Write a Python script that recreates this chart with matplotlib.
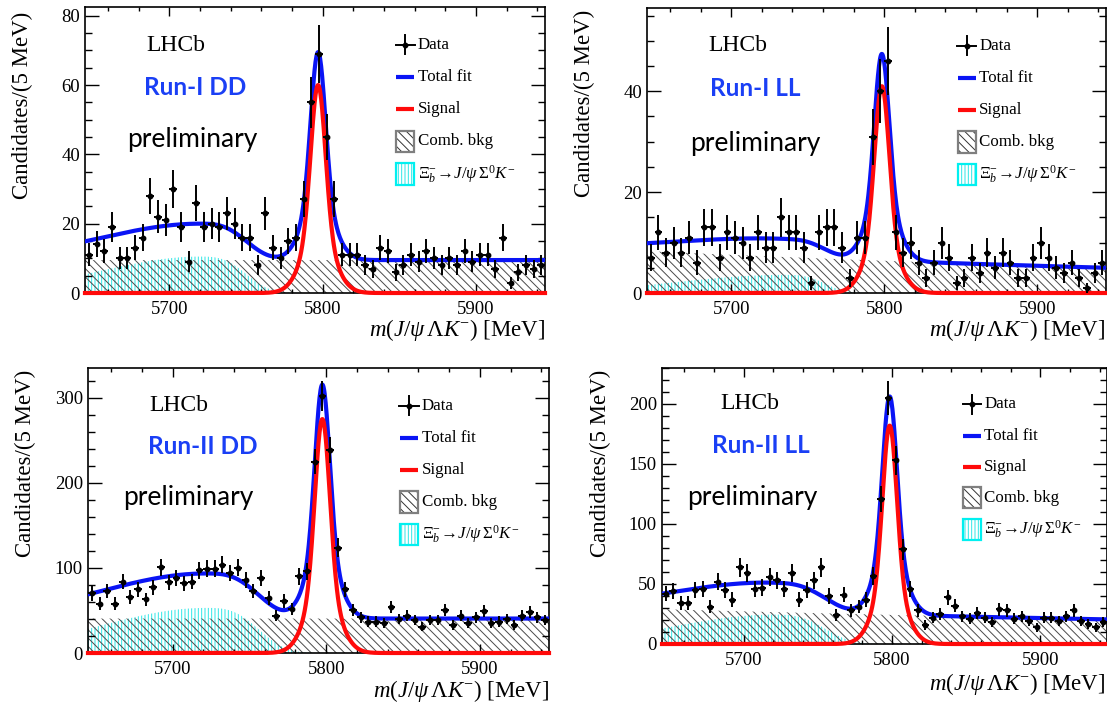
import matplotlib
matplotlib.use("Agg")
import matplotlib.pyplot as plt
from matplotlib.patches import Rectangle
from matplotlib.ticker import MultipleLocator
import numpy as np

plt.rcParams.update({
    "font.family": "Liberation Serif",
    "mathtext.fontset": "custom",
    "mathtext.rm": "Liberation Serif",
    "mathtext.it": "Liberation Serif:italic",
    "mathtext.bf": "Liberation Serif:bold",
    "hatch.linewidth": 0.7,
})

FIT_BLUE = "#0a14f5"
SIG_RED = "#ff0a0a"
CYAN = "#2ee6e6"
HATCH_GRAY = "#4a4a4a"
TAG_BLUE = "#1a3ff5"

# -- binning: 5 MeV bins --
mass_lo, mass_hi, bin_w = 5645.0, 5945.0, 5.0

# -- data: candidates per bin --
run1_dd_counts = [11, 14, 12, 19, 10, 10, 13, 16, 28, 22, 21, 30, 19, 9, 26,
                  19, 20, 19, 23, 20, 16, 16, 8, 23, 13, 10, 15, 16, 27, 55,
                  69, 45, 27, 11, 11, 11, 8, 7, 13, 12, 6, 8, 11, 9, 12,
                  10, 8, 10, 8, 12, 9, 11, 11, 7, 16, 3, 6, 8, 7, 8]
run1_ll_counts = [7, 12, 8, 10, 8, 11, 6, 13, 13, 7,
                  12, 11, 10, 7, 12, 9, 9, 15, 12, 12,
                  9, 2, 12, 13, 13, 9, 3, 11, 11, 31,
                  40, 46, 12, 8, 10, 6, 3, 6, 10, 7,
                  2, 3, 7, 4, 8, 5, 8, 6, 3, 3,
                  7, 10, 7, 5, 4, 6, 3, 1, 4, 6]
run2_dd_counts = [70, 58, 73, 58, 84, 66, 75, 63, 77, 101,
                  83, 88, 82, 84, 97, 99, 99, 104, 94, 100,
                  86, 73, 88, 65, 44, 61, 52, 90, 96, 225,
                  302, 239, 124, 75, 51, 42, 37, 37, 35, 54,
                  40, 44, 39, 31, 39, 39, 51, 33, 44, 35,
                  42, 49, 35, 37, 40, 33, 44, 48, 42, 39]
run2_ll_counts = [42, 44, 34, 34, 45, 46, 31, 52, 45, 37,
                  64, 59, 46, 47, 56, 53, 46, 59, 37, 45,
                  53, 64, 40, 24, 41, 28, 31, 37, 57, 121,
                  205, 153, 79, 46, 28, 16, 22, 25, 39, 32,
                  23, 21, 26, 22, 18, 29, 28, 21, 23, 19,
                  14, 22, 22, 19, 23, 28, 19, 17, 14, 18]

panel_tags = ["Run-I DD", "Run-I LL", "Run-II DD", "Run-II LL"]

# -- fit components --
sig_height = [60, 41, 275, 182]
sig_mean = [5797.0, 5798.5, 5797.5, 5798.5]
sig_core, sig_tail, sig_tail_frac = 4.7, 10.0, 0.28
comb_left = [9.5, 8.3, 40.5, 29.0]
comb_right = [9.5, 5.0, 40.5, 20.5]
part_height = [10.5, 3.6, 53.0, 24.5]
part_mean = [5720, 5735, 5722, 5720]
part_wl = [65, 70, 69, 66.5]
part_wr = [27.6, 24, 31.3, 32]

y_max = [82.5, 56.5, 335, 230]
y_major = [20, 20, 100, 50]
y_minor = [5, 5, 20, 10]

# axes boxes in pixels: left, right, top, bottom
W, H = 1107, 704
boxes = [(85, 545, 7, 293), (647, 1106, 8, 293),
         (88, 549, 368, 653), (662, 1107, 368, 644)]
ylab_pos = [(22, 12), (584, 10), (25, 370), (600, 370)]
xlab_pos = [(545, 330), (1105, 330), (549, 691), (1105, 684)]
tag_pos = [((0.198, 0.867), (0.24, 0.717), (0.233, 0.535)),
           ((0.198, 0.867), (0.235, 0.717), (0.235, 0.526)),
           ((0.197, 0.870), (0.25, 0.723), (0.217, 0.544)),
           ((0.198, 0.873), (0.222, 0.721), (0.202, 0.529))]


def signal(m, h, mu):
    d = m - mu
    return h * ((1 - sig_tail_frac) * np.exp(-0.5 * (d / sig_core) ** 2)
                + sig_tail_frac * np.exp(-0.5 * (d / sig_tail) ** 2))


def comb(m, a, b):
    return a * (b / a) ** ((m - mass_lo) / (mass_hi - mass_lo))


def partial(m, h, mu, wl, wr):
    d = m - mu
    return np.where(d < 0, h * np.exp(-0.5 * (d / wl) ** 2),
                    h * np.exp(-0.5 * np.abs(d / wr) ** 3))


fig = plt.figure(figsize=(W / 100, H / 100), dpi=100)
fig.patch.set_facecolor("white")

all_counts = [run1_dd_counts, run1_ll_counts, run2_dd_counts, run2_ll_counts]
centers = mass_lo + bin_w * (np.arange(60) + 0.5)
mm = np.linspace(mass_lo, mass_hi, 901)

for k in range(4):
    l, r, t, b = boxes[k]
    ax = fig.add_axes([l / W, 1 - b / H, (r - l) / W, (b - t) / H])
    counts = np.array(all_counts[k], dtype=float)

    s = signal(mm, sig_height[k], sig_mean[k])
    c = comb(mm, comb_left[k], comb_right[k])
    p = partial(mm, part_height[k], part_mean[k], part_wl[k], part_wr[k])
    tot = s + c + p

    ax.fill_between(mm, 0, p, facecolor="none", edgecolor=CYAN,
                    hatch="|||||", linewidth=0, zorder=1)
    ax.fill_between(mm, 0, c, facecolor="none", edgecolor=HATCH_GRAY,
                    hatch="\\\\\\\\", linewidth=0, zorder=1.5)
    ax.plot(mm, tot, color=FIT_BLUE, lw=3.0, zorder=3)
    ax.plot(mm, s, color=SIG_RED, lw=3.0, zorder=3.5, clip_on=False)
    ax.errorbar(centers, counts, xerr=bin_w / 2, yerr=np.sqrt(counts),
                fmt="o", ms=3.2, color="black", elinewidth=1.4,
                capsize=0, zorder=4)

    ax.set_xlim(mass_lo, mass_hi)
    ax.set_ylim(0, y_max[k])
    ax.xaxis.set_major_locator(MultipleLocator(100))
    ax.xaxis.set_minor_locator(MultipleLocator(20))
    ax.yaxis.set_major_locator(MultipleLocator(y_major[k]))
    ax.yaxis.set_minor_locator(MultipleLocator(y_minor[k]))
    ax.tick_params(which="both", direction="in", top=True, right=True,
                   labelsize=13.5, width=1.0)
    ax.tick_params(axis="x", which="major", length=6.5, pad=6)
    ax.tick_params(axis="x", which="minor", length=3.2)
    ax.tick_params(axis="y", which="major", length=10, pad=3.6)
    ax.tick_params(axis="y", which="minor", length=5)
    for sp in ax.spines.values():
        sp.set_linewidth(1.2)

    # labels
    yx, yt = ylab_pos[k]
    fig.text(yx / W, 1 - yt / H, "Candidates/(5 MeV)", rotation=90,
             ha="center", va="top", fontsize=16.5)
    xx, xy = xlab_pos[k]
    fig.text(xx / W, 1 - xy / H,
             r"$m(J/\psi\,\mathit{\Lambda}K^{-})$ [MeV]",
             ha="right", va="center", fontsize=16.5)

    # overlay texts
    (lx, ly), (rx, ry), (px, py) = tag_pos[k]
    ax.text(lx, ly, "LHCb", transform=ax.transAxes, ha="center",
            va="center", fontsize=17)
    ax.text(rx, ry, panel_tags[k], transform=ax.transAxes, ha="center",
            va="center", fontsize=17.5, fontweight="bold", color=TAG_BLUE,
            family="Lato")
    ax.text(px, py, "preliminary", transform=ax.transAxes, ha="center",
            va="center", fontsize=19, family="Lato")

    # legend drawn by hand
    ly_list = [0.868, 0.755, 0.642, 0.53, 0.416]
    hx0, hx1, tx = 0.677, 0.716, 0.724
    hc = (hx0 + hx1) / 2
    tr = ax.transAxes
    ax.plot([hc - 0.021, hc + 0.021], [ly_list[0]] * 2, color="black",
            lw=1.4, transform=tr)
    ax.plot([hc, hc], [ly_list[0] - 0.034, ly_list[0] + 0.034],
            color="black", lw=1.4, transform=tr)
    ax.plot([hc], [ly_list[0]], "o", ms=3.2, color="black", transform=tr)
    ax.plot([hx0, hx1], [ly_list[1]] * 2, color=FIT_BLUE, lw=3.0,
            transform=tr, solid_capstyle="butt")
    ax.plot([hx0, hx1], [ly_list[2]] * 2, color=SIG_RED, lw=3.0,
            transform=tr, solid_capstyle="butt")
    bh = 0.075
    ax.add_patch(Rectangle((hx0, ly_list[3] - bh / 2), hx1 - hx0, bh,
                           transform=tr, facecolor="white",
                           edgecolor="#333333", hatch="\\\\\\\\",
                           linewidth=0, zorder=5))
    ax.add_patch(Rectangle((hx0, ly_list[3] - bh / 2), hx1 - hx0, bh,
                           transform=tr, facecolor="none",
                           edgecolor="#7f7f7f", linewidth=1.6, zorder=5.5))
    ax.add_patch(Rectangle((hx0, ly_list[4] - bh / 2), hx1 - hx0, bh,
                           transform=tr, facecolor="white",
                           edgecolor=CYAN, hatch="|||||",
                           linewidth=0, zorder=5))
    ax.add_patch(Rectangle((hx0, ly_list[4] - bh / 2), hx1 - hx0, bh,
                           transform=tr, facecolor="none",
                           edgecolor="#00f0f0", linewidth=1.6, zorder=5.5))
    leg_labels = ["Data", "Total fit", "Signal", "Comb. bkg",
                  r"$\mathit{\Xi}_b^{-}\!\rightarrow\! J/\psi\,\mathit{\Sigma}^0K^{-}$"]
    for yy, lab in zip(ly_list, leg_labels):
        ax.text(tx, yy, lab, transform=tr, ha="left", va="center",
                fontsize=12.2)

fig.savefig("out.png", dpi=100)
